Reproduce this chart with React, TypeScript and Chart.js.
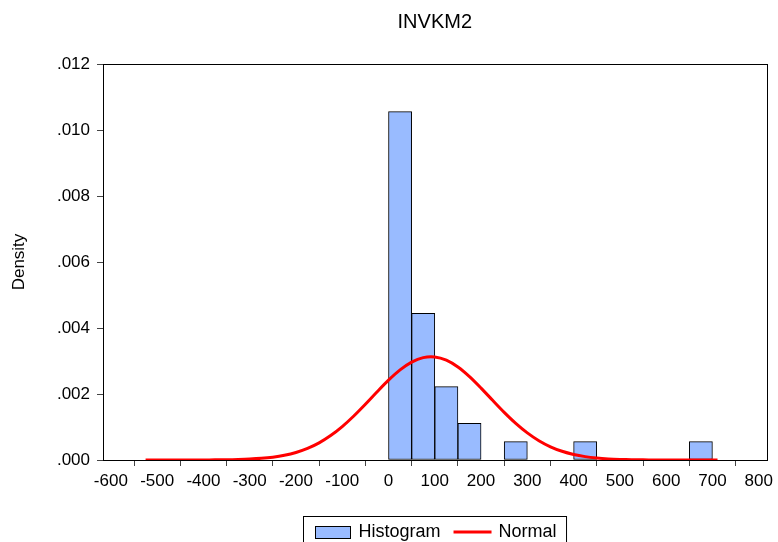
import React, { useEffect, useRef } from "react";
import { Chart, registerables } from "chart.js";

Chart.register(...registerables);

const chartTitle = "INVKM2";
const yAxisTitle = "Density";

// Histogram bins (bin width 50): left edge, right edge, density
const binStarts = [0, 50, 100, 150, 250, 400, 650];
const binEnds = [50, 100, 150, 200, 300, 450, 700];
const binDensity = [0.010556, 0.004444, 0.002222, 0.001111, 0.000556, 0.000556, 0.000556];

// Normal density curve
const normalX = [
  -525, -500, -475, -450, -425, -400, -375, -350, -325, -300, -275, -250, -225, -200, -175, -150, -125,
  -100, -75, -50, -25, 0, 25, 50, 75, 100, 125, 150, 175, 200, 225, 250, 275, 300, 325, 350, 375, 400,
  425, 450, 475, 500, 525, 550, 575, 600, 625, 650, 675, 700, 711,
];
const normalY = [
  0.0, 0.0000001, 0.0000002, 0.0000004, 0.0000009, 0.0000019, 0.0000039, 0.0000078, 0.0000151,
  0.000028, 0.0000502, 0.0000866, 0.0001437, 0.000229, 0.000352, 0.00052, 0.00074, 0.001013, 0.001334,
  0.00169, 0.002061, 0.002419, 0.002731, 0.002968, 0.003103, 0.003122, 0.003023, 0.002816, 0.002525,
  0.002178, 0.001809, 0.001445, 0.001111, 0.000822, 0.000585, 0.000401, 0.000264, 0.0001677, 0.0001023,
  0.00006, 0.0000339, 0.0000185, 0.0000097, 0.0000049, 0.0000024, 0.0000011, 0.0000005, 0.0000002,
  0.0000001, 0.0, 0.0,
];

const xTicks = [-600, -500, -400, -300, -200, -100, 0, 100, 200, 300, 400, 500, 600, 700, 800];
const yTicks = [0, 0.002, 0.004, 0.006, 0.008, 0.01, 0.012];
const xMin = -617;
const xMax = 817;
const yMin = 0;
const yMax = 0.012;

const legendLabels = ["Histogram", "Normal"];

const barFill = "#99BBFF";
const lineColor = "#FF0000";
const FONT = '"Liberation Sans", Arial, sans-serif';

export default function App() {
  const ref = useRef<HTMLCanvasElement | null>(null);

  useEffect(() => {
    if (!ref.current) return;

    const frameAndText = {
      id: "frameAndText",
      afterDraw(chart: any) {
        const { ctx, chartArea } = chart;
        const ca = chartArea;
        ctx.save();
        ctx.strokeStyle = "#000";
        ctx.lineWidth = 1;
        ctx.strokeRect(Math.round(ca.left) + 0.5, Math.round(ca.top) + 0.5, Math.round(ca.right - ca.left), Math.round(ca.bottom - ca.top));

        const cx = (ca.left + ca.right) / 2;
        // Title
        ctx.fillStyle = "#000";
        ctx.font = `20px ${FONT}`;
        ctx.textAlign = "center";
        ctx.textBaseline = "middle";
        ctx.fillText(chartTitle, cx, 22);

        // Legend
        ctx.font = `18px ${FONT}`;
        const w1 = ctx.measureText(legendLabels[0]).width;
        const w2 = ctx.measureText(legendLabels[1]).width;
        const padL = 11, sw = 35, g1 = 9, g2 = 13, lw = 38, g3 = 7, padR = 10;
        const total = padL + sw + g1 + w1 + g2 + lw + g3 + w2 + padR;
        const bx = Math.round(cx - total / 2) + 0.5;
        const by = 516.5;
        const my = 532;
        ctx.strokeStyle = "#000";
        ctx.lineWidth = 1;
        ctx.strokeRect(bx, by, total, 40);
        let x = bx + padL;
        ctx.fillStyle = barFill;
        ctx.fillRect(Math.round(x), 526, sw, 12);
        ctx.strokeRect(Math.round(x) + 0.5, 526.5, sw, 12);
        x += sw + g1;
        ctx.fillStyle = "#000";
        ctx.textAlign = "left";
        ctx.textBaseline = "middle";
        ctx.fillText(legendLabels[0], x, my);
        x += w1 + g2;
        ctx.strokeStyle = lineColor;
        ctx.lineWidth = 3;
        ctx.beginPath();
        ctx.moveTo(x, my);
        ctx.lineTo(x + lw, my);
        ctx.stroke();
        x += lw + g3;
        ctx.fillText(legendLabels[1], x, my);
        ctx.restore();
      },
    };

    const chart = new Chart(ref.current, {
      type: "bar",
      data: {
        datasets: [
          {
            type: "line",
            label: legendLabels[1],
            data: normalX.map((v, i) => ({ x: v, y: normalY[i] })),
            borderColor: lineColor,
            borderWidth: 3,
            pointRadius: 0,
            tension: 0.3,
            fill: false,
            order: 1,
          } as any,
          {
            type: "bar",
            label: legendLabels[0],
            data: binStarts.map((s, i) => ({ x: (s + binEnds[i]) / 2, y: binDensity[i] })),
            backgroundColor: barFill,
            borderColor: "#000",
            borderWidth: 1,
            borderSkipped: false,
            barPercentage: 1,
            categoryPercentage: 1,
            order: 2,
          } as any,
        ],
      },
      options: {
        responsive: false,
        animation: false,
        devicePixelRatio: 1,
        layout: { padding: { left: 0, right: 10, top: 64, bottom: 52 } },
        plugins: {
          legend: { display: false },
          title: { display: false },
          tooltip: { enabled: false },
        },
        scales: {
          x: {
            type: "linear",
            min: xMin,
            max: xMax,
            offset: false,
            afterBuildTicks: (s: any) => {
              s.ticks = xTicks.map((v) => ({ value: v }));
            },
            afterFit: (s: any) => {
              s.height = 30;
            },
            grid: { display: true, drawOnChartArea: false, drawTicks: true, tickLength: 6, color: "#444" },
            border: { display: true, color: "#000" },
            ticks: {
              color: "#000",
              font: { size: 17, family: FONT },
              padding: 5,
              maxRotation: 0,
              autoSkip: false,
              callback: (v: any) => String(v),
            },
          },
          y: {
            type: "linear",
            min: yMin,
            max: yMax,
            afterBuildTicks: (s: any) => {
              s.ticks = yTicks.map((v) => ({ value: v }));
            },
            afterFit: (s: any) => {
              s.width = 103;
            },
            grid: { display: true, drawOnChartArea: false, drawTicks: true, tickLength: 6, color: "#444" },
            border: { display: true, color: "#000" },
            title: {
              display: true,
              text: yAxisTitle,
              color: "#000",
              font: { size: 17, family: FONT },
              padding: { top: 9, bottom: 0 },
            },
            ticks: {
              color: "#000",
              font: { size: 17, family: FONT },
              padding: 7,
              autoSkip: false,
              callback: (v: any) => Number(v).toFixed(3).replace(/^0/, ""),
            },
          },
        },
      },
      plugins: [frameAndText],
    });

    return () => chart.destroy();
  }, []);

  return (
    <div style={{ position: "fixed", left: 0, top: 0, width: 778, height: 542, background: "#fff" }}>
      <canvas ref={ref} width={778} height={542} />
    </div>
  );
}
